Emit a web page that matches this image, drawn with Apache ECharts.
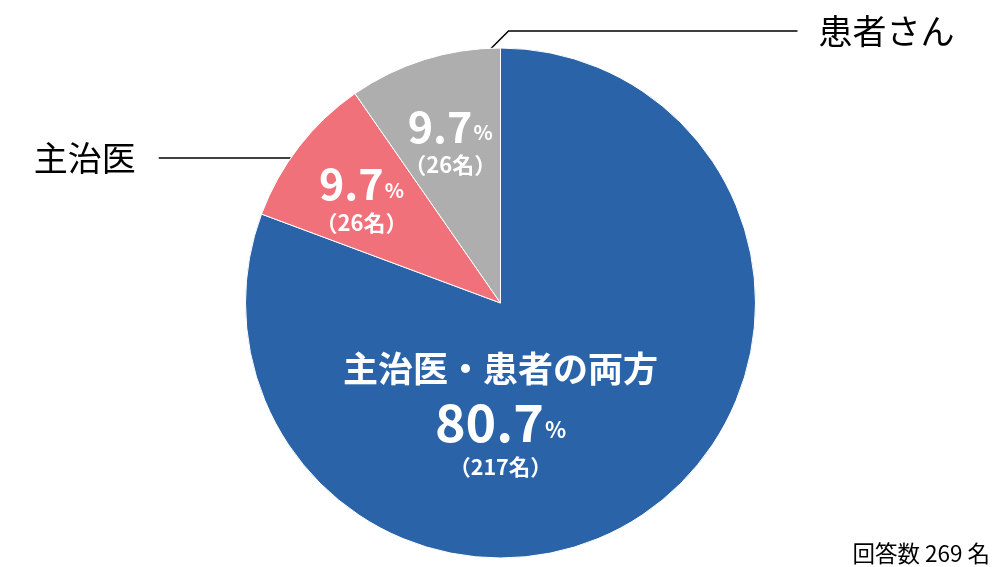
<!DOCTYPE html>
<html>
<head>
<meta charset="utf-8">
<script src="https://cdn.jsdelivr.net/npm/echarts@6/dist/echarts.min.js"></script>
<style>
html,body{margin:0;padding:0;background:#fff;}
#chart{width:1001px;height:567px;}
</style>
</head>
<body>
<div id="chart"></div>
<script>
const categories = ['主治医・患者の両方', '主治医', '患者さん'];
const counts = [217, 26, 26];
const percents = ['80.7', '9.7', '9.7'];
const colors = ['#2B63A8', '#F1717A', '#AEAEAE'];
const totalLabel = '回答数 269 名';

const FONT = '"Noto Sans CJK JP", "Noto Sans", sans-serif';
const chart = echarts.init(document.getElementById('chart'));

const CY = 303, R = 255;
const total = counts.reduce((a, b) => a + b, 0);
function midAngle(i) {
  let cum = 0;
  for (let k = 0; k < i; k++) cum += counts[k];
  const frac = (cum + counts[i] / 2) / total;
  return frac * 2 * Math.PI; // clockwise from top
}

const innerData = categories.map((c, i) => {
  let fmt;
  if (i === 0) {
    fmt = '{t|' + c + '}\n{big|' + percents[i] + '}{pctB|%}\n{cnt|（' + counts[i] + '名）}';
  } else {
    fmt = '{mid|' + percents[i] + '}{pct|%}\n{cnt2|（' + counts[i] + '名）}';
  }
  return {
    name: c, value: counts[i],
    itemStyle: { color: colors[i] },
    label: { formatter: fmt }
  };
});

const outerData = categories.map((c, i) => ({
  name: c, value: counts[i],
  label: { show: i !== 0 },
  labelLine: { show: i !== 0 }
}));

chart.setOption({
  animation: false,
  title: {
    text: totalLabel, right: 11, bottom: 2, padding: 0,
    textStyle: { fontFamily: FONT, fontSize: 22.5, fontWeight: 'normal', color: '#000' }
  },
  series: [
    {
      type: 'pie',
      center: ['50%', CY],
      radius: [0, R],
      startAngle: 90,
      clockwise: true,
      avoidLabelOverlap: false,
      itemStyle: { borderColor: '#fff', borderWidth: 1 },
      label: {
        show: true, position: 'inside', color: '#fff', fontFamily: FONT,
        fontWeight: 'bold', align: 'center', lineHeight: 40,
        rich: {
          t: { fontSize: 35, fontWeight: 'bold', color: '#fff', fontFamily: FONT, lineHeight: 50 },
          big: { fontSize: 52, fontWeight: 'bold', color: '#fff', fontFamily: FONT, lineHeight: 58 },
          pctB: { fontSize: 22, fontWeight: 'bold', color: '#fff', fontFamily: FONT, padding: [14, 0, 0, 1] },
          cnt: { fontSize: 21.5, fontWeight: 'bold', color: '#fff', fontFamily: FONT, lineHeight: 30 },
          mid: { fontSize: 43, fontWeight: 'bold', color: '#fff', fontFamily: FONT, lineHeight: 48 },
          pct: { fontSize: 20, fontWeight: 'bold', color: '#fff', fontFamily: FONT, padding: [12, 0, 0, 1] },
          cnt2: { fontSize: 22, fontWeight: 'bold', color: '#fff', fontFamily: FONT, lineHeight: 28 }
        }
      },
      labelLine: { show: false },
      labelLayout: function (p) {
        const cx = chart.getWidth() / 2;
        const i = p.dataIndex;
        if (i === 0) return { x: cx, y: CY + 0.43 * R, align: 'center', verticalAlign: 'middle' };
        const a = midAngle(i);
        if (i === 1) {
          const r = 0.69 * R;
          return { x: cx + r * Math.sin(a), y: CY - r * Math.cos(a) + 3, align: 'center', verticalAlign: 'middle' };
        }
        const r = 0.66 * R;
        return { x: cx + r * Math.sin(a), y: CY - r * Math.cos(a) - 2, align: 'center', verticalAlign: 'middle' };
      },
      data: innerData
    },
    {
      type: 'pie',
      center: ['50%', CY],
      radius: [0, R],
      startAngle: 90,
      clockwise: true,
      silent: true,
      avoidLabelOverlap: false,
      itemStyle: { color: 'rgba(0,0,0,0)', borderWidth: 0 },
      label: {
        position: 'outside', color: '#000', fontFamily: FONT, fontSize: 34, fontWeight: 'normal',
        formatter: '{b}'
      },
      labelLine: { lineStyle: { color: '#000', width: 1.5 }, length: 10, length2: 100 },
      labelLayout: function (p) {
        const cx = chart.getWidth() / 2;
        if (p.dataIndex === 1) {
          const y = CY - 145;
          const ex = cx - Math.sqrt(R * R - 145 * 145);
          return {
            x: ex - 155, y: y, align: 'right', verticalAlign: 'middle',
            labelLinePoints: [[ex, y], [ex, y], [ex - 132, y]]
          };
        }
        if (p.dataIndex === 2) {
          return {
            x: cx + 318, y: CY - 272, align: 'left', verticalAlign: 'middle',
            labelLinePoints: [[cx - 10, CY - 254], [cx + 8, CY - 272], [cx + 297, CY - 272]]
          };
        }
        return {};
      },
      data: outerData
    }
  ]
});
</script>
</body>
</html>
